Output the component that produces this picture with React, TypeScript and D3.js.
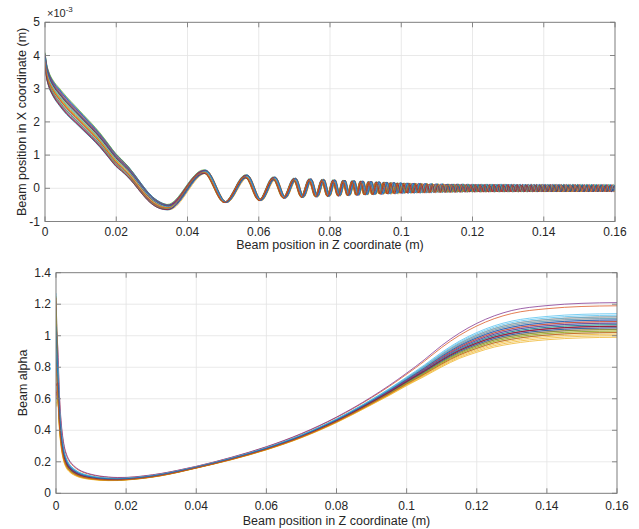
import React from 'react';
import * as d3 from 'd3';

// MATLAB default colour order
const COLORS = ['#0072BD', '#D95319', '#EDB120', '#7E2F8E', '#77AC30', '#4DBEEE', '#A2142F'];

const xTicks = [0, 0.02, 0.04, 0.06, 0.08, 0.1, 0.12, 0.14, 0.16];
const xTickLabels = ['0', '0.02', '0.04', '0.06', '0.08', '0.1', '0.12', '0.14', '0.16'];
const topYTicks = [-1, 0, 1, 2, 3, 4, 5];
const topYTickLabels = ['-1', '0', '1', '2', '3', '4', '5'];
const bottomYTicks = [0, 0.2, 0.4, 0.6, 0.8, 1, 1.2, 1.4];
const bottomYTickLabels = ['0', '0.2', '0.4', '0.6', '0.8', '1', '1.2', '1.4'];

// ---- Top panel: beam X position (x1e-3 m) ----
// centre of the bundle during the initial descent
const descentZ = [0, 0.0005, 0.001, 0.0023, 0.004, 0.0061, 0.0085, 0.0107, 0.013, 0.0154, 0.0178, 0.0198, 0.0215, 0.0232, 0.0250, 0.027, 0.0294, 0.032, 0.0345];
const descentV = [3.87, 3.5, 3.3, 3.0, 2.75, 2.48, 2.22, 1.98, 1.73, 1.45, 1.13, 0.86, 0.69, 0.51, 0.28, 0.0, -0.3, -0.5, -0.57];
// spread of the bundle (half width) along z
const spreadZ = [0, 0.005, 0.01, 0.02, 0.03, 0.035, 0.045, 0.16];
const spreadV = [0.22, 0.28, 0.25, 0.2, 0.12, 0.08, 0.03, 0.02];
// positions of the oscillation crests
const crestZ = [0.0448, 0.0565, 0.0643, 0.0701, 0.0744, 0.0780, 0.0811, 0.0839, 0.0865, 0.0889, 0.0912, 0.0934, 0.0955, 0.0975, 0.0994,
  0.1012, 0.1029, 0.1046, 0.1062, 0.1078, 0.1093, 0.1108, 0.1123, 0.1137, 0.1151, 0.1165, 0.1179, 0.1193, 0.1206, 0.1219,
  0.1232, 0.1245, 0.1258, 0.1271, 0.1284, 0.1297, 0.1310, 0.1323, 0.1336, 0.1349, 0.1362, 0.1375, 0.1388, 0.1401, 0.1414,
  0.1427, 0.1440, 0.1453, 0.1466, 0.1479, 0.1492, 0.1505, 0.1518, 0.1531, 0.1544, 0.1557, 0.1570, 0.1583, 0.1596, 0.1609];
// oscillation amplitude envelope
const ampZ = [0.0345, 0.0448, 0.0515, 0.0565, 0.061, 0.0645, 0.07, 0.08, 0.09, 0.1, 0.11, 0.12, 0.16];
const ampV = [0.57, 0.5, 0.41, 0.36, 0.36, 0.3, 0.27, 0.23, 0.19, 0.14, 0.11, 0.095, 0.09];
// per-line deviations
const topSpread = [0.9, -0.3, 0.5, -0.8, 0.1, 0.7, -0.5, 0.3, -0.1, -0.9, 0.6, 0.0, -0.6, 0.4, 0.8, -0.2, 0.2, -0.7, 1.0, -0.4, 0.35, -0.95, 0.55, -0.15, 0.75, -0.55, 0.15, -0.85, 0.45, -0.25];
const topShift = [2, -3, 4, -1, 0, -4, 3, 1, -2, 4, -3, 2, 0, -1, 3, -4, 1, 2, -2, 3, -3, 0, 4, -1, 1, -4, 2, -2, 3, -3]; // x1e-4 m

// ---- Bottom panel: beam alpha ----
const alphaZ = [0, 0.0005, 0.001, 0.0015, 0.002, 0.0025, 0.003, 0.004, 0.005, 0.0065, 0.008, 0.01, 0.0125, 0.015, 0.0175, 0.02, 0.025, 0.03, 0.035, 0.04, 0.05, 0.06, 0.07, 0.08, 0.09, 0.095, 0.1, 0.105, 0.11, 0.115, 0.12, 0.125, 0.13, 0.14, 0.15, 0.16];
const alphaV = [1.0, 0.75, 0.5, 0.36, 0.28, 0.23, 0.2, 0.165, 0.145, 0.125, 0.113, 0.103, 0.095, 0.091, 0.09, 0.092, 0.102, 0.118, 0.14, 0.165, 0.22, 0.285, 0.365, 0.465, 0.585, 0.65, 0.72, 0.79, 0.865, 0.93, 0.98, 1.02, 1.047, 1.075, 1.088, 1.092];
const alphaStart = [1.2, 1.22, 0.55, 1.05, 0.9, 1.27, 1.1, 0.8, 1.15, 0.7, 1.0, 1.25, 0.95, 0.6, 1.18, 0.85, 1.08, 0.75, 1.12, 0.65, 1.02, 0.88, 1.24, 0.78, 0.98, 1.16, 0.92, 0.68, 1.06, 0.82];
const alphaEnd = [1.06, 1.19, 1.0, 1.21, 1.02, 1.14, 1.04, 1.08, 1.12, 0.99, 1.10, 1.07, 1.13, 1.05, 1.07, 1.11, 1.03, 1.09, 1.03, 1.12, 1.06, 1.05, 1.09, 1.01, 1.08, 1.04, 1.11, 1.06, 1.10, 1.02];
const alphaSpreadZ = [0, 0.003, 0.01, 0.02, 0.04, 0.06, 0.08, 0.09, 0.1, 0.11, 0.12, 0.13, 0.16];
const alphaSpreadV = [2.2, 2.2, 1.6, 0.9, 0.35, 0.35, 0.38, 0.42, 0.55, 0.78, 0.93, 1, 1];

const N = topSpread.length;
const FONT = '"Liberation Sans", Arial, Helvetica, sans-serif';
const TXT = '#262626';
const AXC = '#7a7a7a';
const GRID = '#e3e3e3';

const top = { l: 45, r: 615, t: 22.3, b: 221.5 };
const bot = { l: 56, r: 617, t: 272.7, b: 493.3 };

function Axes({ box, xs, ys, yTicks, yLabels, id, children }: any) {
  const tl = 5;
  return (
    <g>
      <defs>
        <clipPath id={id}>
          <rect x={box.l} y={box.t} width={box.r - box.l} height={box.b - box.t} />
        </clipPath>
      </defs>
      <rect x={box.l} y={box.t} width={box.r - box.l} height={box.b - box.t} fill="#fff" />
      {xTicks.map((t) => (
        <line key={'gx' + t} x1={xs(t)} x2={xs(t)} y1={box.t} y2={box.b} stroke={GRID} strokeWidth={0.8} />
      ))}
      {yTicks.map((t: number) => (
        <line key={'gy' + t} x1={box.l} x2={box.r} y1={ys(t)} y2={ys(t)} stroke={GRID} strokeWidth={0.8} />
      ))}
      <g clipPath={`url(#${id})`}>{children}</g>
      <rect x={box.l} y={box.t} width={box.r - box.l} height={box.b - box.t} fill="none" stroke={AXC} strokeWidth={0.9} />
      {xTicks.map((t) => (
        <g key={'tx' + t}>
          <line x1={xs(t)} x2={xs(t)} y1={box.b} y2={box.b - tl} stroke={AXC} strokeWidth={0.9} />
          <line x1={xs(t)} x2={xs(t)} y1={box.t} y2={box.t + tl} stroke={AXC} strokeWidth={0.9} />
        </g>
      ))}
      {yTicks.map((t: number) => (
        <g key={'ty' + t}>
          <line x1={box.l} x2={box.l + tl} y1={ys(t)} y2={ys(t)} stroke={AXC} strokeWidth={0.9} />
          <line x1={box.r} x2={box.r - tl} y1={ys(t)} y2={ys(t)} stroke={AXC} strokeWidth={0.9} />
        </g>
      ))}
      {yTicks.map((t: number, i: number) => (
        <text key={'yl' + t} x={box.l - 5} y={ys(t)} textAnchor="end" dominantBaseline="central" fontSize={12} fill={TXT} fontFamily={FONT}>
          {yLabels[i]}
        </text>
      ))}
    </g>
  );
}

export default function App() {
  // ---------- top panel ----------
  const xsT = d3.scaleLinear().domain([0, 0.16]).range([top.l, top.r]);
  const ysT = d3.scaleLinear().domain([-1, 5]).range([top.b, top.t]);
  const spreadAt = d3.scaleLinear().domain(spreadZ).range(spreadV).clamp(true);
  const ampAt = d3.scaleLinear().domain(ampZ).range(ampV).clamp(true);
  const shiftW = (z: number) => {
    const w = Math.max(0, Math.min(1, (z - 0.015) / 0.02));
    const g = z > 0.085 ? 1 + (z - 0.085) / 0.015 : 1;
    return w * g;
  };
  const lineT = d3.line<[number, number]>().x((d) => xsT(d[0])).y((d) => ysT(d[1])).curve(d3.curveMonotoneX);

  const topPaths = d3.range(N).map((i) => {
    const s = topShift[i] * 1e-4;
    const f = topSpread[i];
    const pts: [number, number][] = [];
    descentZ.forEach((z, k) => {
      pts.push([z + s * shiftW(z), descentV[k] + f * spreadAt(z)]);
    });
    crestZ.forEach((cz, k) => {
      pts.push([cz + s * shiftW(cz), ampAt(cz) * (1 + 0.05 * f) + f * spreadAt(cz)]);
      if (k < crestZ.length - 1) {
        const tz = (cz + crestZ[k + 1]) / 2;
        pts.push([tz + s * shiftW(tz), -ampAt(tz) * (1 + 0.05 * f) + f * spreadAt(tz)]);
      }
    });
    return { d: lineT(pts) as string, c: COLORS[i % COLORS.length] };
  });

  // ---------- bottom panel ----------
  const xsB = d3.scaleLinear().domain([0, 0.16]).range([bot.l, bot.r]);
  const ysB = d3.scaleLinear().domain([0, 1.4]).range([bot.b, bot.t]);
  const kAt = d3.scaleLinear().domain(alphaSpreadZ).range(alphaSpreadV).clamp(true);
  const lineB = d3.line<[number, number]>().x((d) => xsB(d[0])).y((d) => ysB(d[1])).curve(d3.curveMonotoneX);
  const endBase = alphaV[alphaV.length - 1];
  const botPaths = d3.range(N).map((i) => {
    const m = alphaEnd[i] / endBase - 1;
    const pts: [number, number][] = alphaZ.map((z, k) => [
      z,
      k === 0 ? alphaStart[i] : alphaV[k] * (1 + m * kAt(z)),
    ]);
    return { d: lineB(pts) as string, c: COLORS[i % COLORS.length] };
  });

  return (
    <svg width={639} height={529} style={{ position: 'absolute', left: 0, top: 0, background: '#fff' }} fontFamily={FONT}>
      <rect x={0} y={0} width={639} height={529} fill="#fff" />
      <Axes box={top} xs={xsT} ys={ysT} yTicks={topYTicks} yLabels={topYTickLabels} id="clipTop">
        {topPaths.map((p, i) => (
          <path key={i} d={p.d} fill="none" stroke={p.c} strokeWidth={0.75} />
        ))}
      </Axes>
      {xTicks.map((t, i) => (
        <text key={'xlT' + t} x={xsT(t)} y={232} textAnchor="middle" dominantBaseline="central" fontSize={12} fill={TXT}>
          {xTickLabels[i]}
        </text>
      ))}
      <text x={47} y={17} fontSize={11} fill={TXT}>
        ×10<tspan fontSize={8} dy={-5}>-3</tspan>
      </text>
      <text x={(top.l + top.r) / 2} y={245} textAnchor="middle" dominantBaseline="central" fontSize={12.5} fill={TXT}>
        Beam position in Z coordinate (m)
      </text>
      <text transform={`translate(22,${(top.t + top.b) / 2}) rotate(-90)`} textAnchor="middle" dominantBaseline="central" fontSize={12.5} fill={TXT}>
        Beam position in X coordinate (m)
      </text>

      <Axes box={bot} xs={xsB} ys={ysB} yTicks={bottomYTicks} yLabels={bottomYTickLabels} id="clipBot">
        {botPaths.map((p, i) => (
          <path key={i} d={p.d} fill="none" stroke={p.c} strokeWidth={0.75} />
        ))}
      </Axes>
      {xTicks.map((t, i) => (
        <text key={'xlB' + t} x={xsB(t)} y={506} textAnchor="middle" dominantBaseline="central" fontSize={12} fill={TXT}>
          {xTickLabels[i]}
        </text>
      ))}
      <text x={(bot.l + bot.r) / 2} y={521} textAnchor="middle" dominantBaseline="central" fontSize={12.5} fill={TXT}>
        Beam position in Z coordinate (m)
      </text>
      <text transform={`translate(23,${(bot.t + bot.b) / 2}) rotate(-90)`} textAnchor="middle" dominantBaseline="central" fontSize={12.5} fill={TXT}>
        Beam alpha
      </text>
    </svg>
  );
}
